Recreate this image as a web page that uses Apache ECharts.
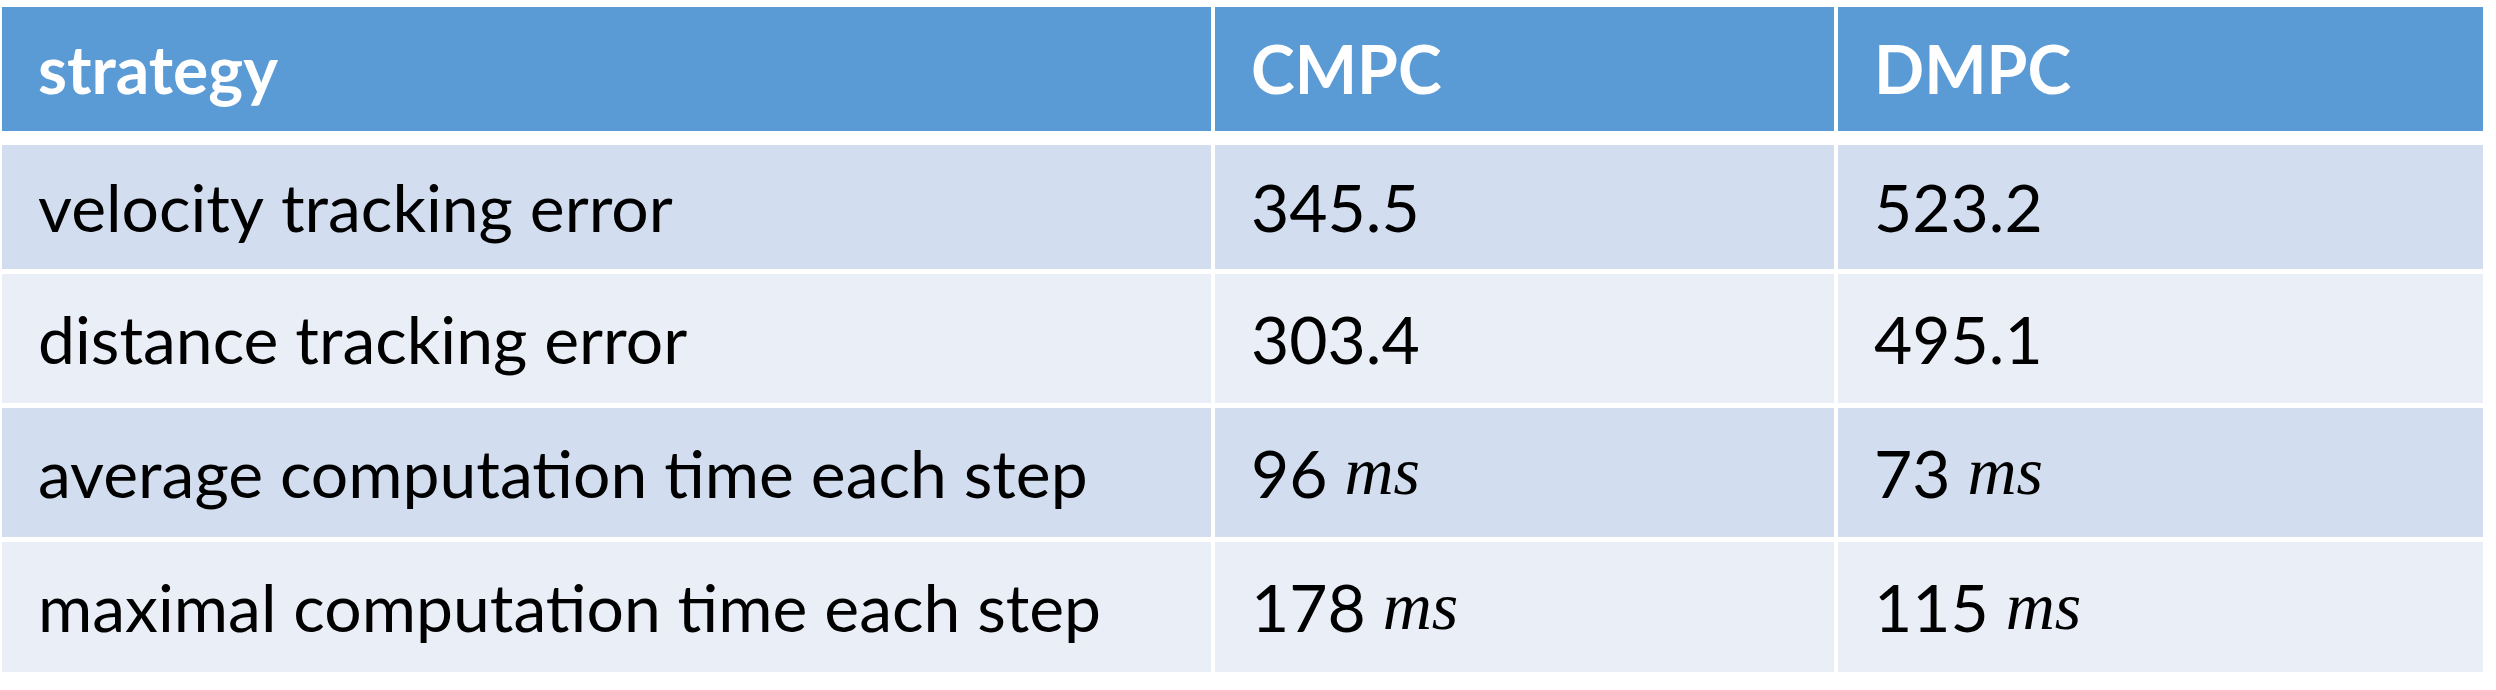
<!DOCTYPE html>
<html><head><meta charset="utf-8">
<script src="https://cdn.jsdelivr.net/npm/echarts@6/dist/echarts.min.js"></script>
<style>html,body{margin:0;padding:0;background:#fff}#main{width:2496px;height:690px}</style>
</head><body><div id="main"></div>
<script>
var headers = ['strategy', 'CMPC', 'DMPC'];
var metrics = ['velocity tracking error', 'distance tracking error', 'average computation time each step', 'maximal computation time each step'];
var cmpc = ['345.5', '303.4', '96', '178'];
var dmpc = ['523.2', '495.1', '73', '115'];
var units = ['', '', 'ms', 'ms'];

var colX = [2, 1215, 1838], colW = [1209, 619, 645];
var rowY = [7, 145, 274, 408, 542], rowH = [124, 124, 129, 129, 130];
var rowFill = ['#5B9BD5', '#D2DEEF', '#EAEFF7', '#D2DEEF', '#EAEFF7'];
var pad = 36;

var chart = echarts.init(document.getElementById('main'));
var els = [];
function cell(r, c, txt, unit) {
	els.push({type:'rect', shape:{x:colX[c], y:rowY[r], width:colW[c], height:rowH[r]}, style:{fill:rowFill[r]}});
	var t = unit ? txt + ' {u|' + unit + '}' : txt;
	els.push({type:'text', x:colX[c] + pad, y:rowY[r] + rowH[r] / 2 + 4,
		style:{text:t, fill: r == 0 ? '#fff' : '#000', fontFamily:'Lato', fontWeight: r == 0 ? 'bold' : 'normal',
			fontSize:66, verticalAlign:'middle', align:'left',
			rich:{u:{fontFamily:'Liberation Serif', fontStyle:'italic', fontSize:68, fill:'#000'}}}});
}
for (var c = 0; c < headers.length; c++) cell(0, c, headers[c]);
for (var i = 0; i < metrics.length; i++) {
	cell(i + 1, 0, metrics[i]);
	cell(i + 1, 1, cmpc[i], units[i]);
	cell(i + 1, 2, dmpc[i], units[i]);
}
chart.setOption({animation:false, graphic:{elements:els}});
</script></body></html>
